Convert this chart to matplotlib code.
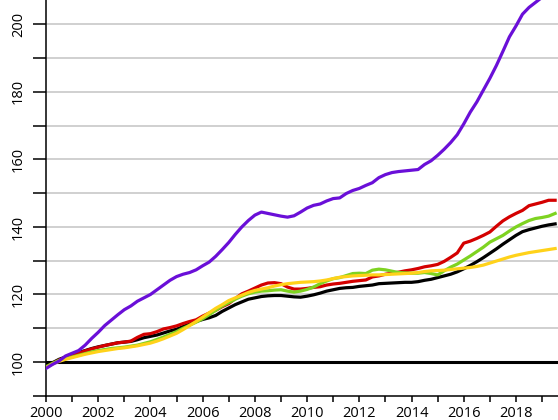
import numpy as np
import matplotlib
matplotlib.use("Agg")
import matplotlib.pyplot as plt

plt.rcParams['font.family'] = ['Open Sans', 'DejaVu Sans']

# quarterly time axis, 2000 Q1 .. 2019 Q3
years = np.arange(2000, 2019.51, 0.25)

purple = [98.1, 99.3, 100.3, 101.8, 102.6, 103.4, 105.0, 107.0,
          108.8, 110.8, 112.4, 114.0, 115.5, 116.6, 118.0, 119.0,
          120.0, 121.4, 122.8, 124.2, 125.3, 126.0, 126.5, 127.3,
          128.5, 129.6, 131.3, 133.3, 135.4, 137.8, 140.0, 141.9,
          143.5, 144.4, 144.0, 143.6, 143.2, 142.9, 143.3, 144.4,
          145.6, 146.4, 146.8, 147.7, 148.4, 148.6, 149.9, 150.8,
          151.4, 152.3, 153.1, 154.6, 155.5, 156.1, 156.4, 156.6,
          156.8, 157.0, 158.5, 159.6, 161.2, 163.0, 165.0, 167.3,
          170.5, 174.0, 177.0, 180.5, 184.0, 187.8, 192.0, 196.3,
          199.5, 203.0, 205.0, 206.5, 208.0, 209.5, 211.0]

red = [98.5, 99.5, 100.6, 101.3, 101.9, 102.6, 103.3, 103.9,
       104.4, 104.9, 105.3, 105.7, 105.9, 106.2, 107.3, 108.2,
       108.4, 109.0, 109.8, 110.2, 110.7, 111.4, 112.0, 112.5,
       113.6, 114.5, 115.3, 116.4, 117.3, 118.8, 120.2, 121.0,
       121.9, 122.8, 123.4, 123.5, 123.2, 122.2, 121.6, 121.6,
       121.8, 122.1, 122.3, 122.8, 123.1, 123.3, 123.6, 123.9,
       124.1, 124.3, 125.2, 125.5, 126.0, 126.3, 126.6, 127.0,
       127.3, 127.7, 128.2, 128.5, 128.9, 129.8, 131.0, 132.3,
       135.2, 135.8, 136.6, 137.5, 138.5, 140.2, 141.8, 143.0,
       144.0, 144.9, 146.3, 146.8, 147.3, 147.9, 147.9]

black = [98.8, 99.8, 100.8, 101.5, 102.1, 102.8, 103.4, 104.0,
         104.5, 104.9, 105.3, 105.7, 105.9, 106.1, 106.6, 107.2,
         107.6, 108.0, 108.6, 109.2, 109.7, 110.5, 111.3, 112.0,
         112.6, 113.1, 113.8, 115.0, 116.0, 117.0, 117.8, 118.6,
         119.0, 119.4, 119.6, 119.7, 119.7, 119.5, 119.3, 119.2,
         119.5, 119.9, 120.4, 121.0, 121.4, 121.8, 122.0, 122.1,
         122.4, 122.6, 122.8, 123.2, 123.3, 123.4, 123.5, 123.6,
         123.6, 123.8, 124.2, 124.5, 125.0, 125.5, 126.0, 126.7,
         127.6, 128.6, 129.7, 130.9, 132.2, 133.5, 134.9, 136.2,
         137.5, 138.6, 139.2, 139.7, 140.2, 140.6, 140.9]

green = [98.6, 99.6, 100.5, 101.0, 101.5, 102.0, 102.5, 103.0,
         103.4, 103.7, 104.0, 104.2, 104.4, 104.7, 105.0, 105.5,
         106.0, 106.7, 107.4, 108.2, 109.0, 110.0, 110.9, 111.8,
         112.8, 114.0, 115.3, 116.6, 117.6, 118.6, 119.5, 120.2,
         120.7, 121.0, 121.1, 121.3, 121.4, 121.0, 120.7, 121.0,
         121.5, 122.2, 123.2, 124.0, 124.7, 125.0, 125.6, 126.2,
         126.3, 126.2, 127.2, 127.5, 127.3, 126.9, 126.5, 126.4,
         126.3, 126.3, 126.5, 126.2, 125.8, 127.0, 128.1, 129.0,
         130.2, 131.4, 132.7, 134.0, 135.5, 136.5, 137.5, 138.8,
         140.0, 141.0, 141.9, 142.5, 142.8, 143.2, 144.0]

yellow = [98.3, 99.4, 100.2, 100.8, 101.3, 101.8, 102.3, 102.7,
          103.1, 103.4, 103.7, 104.0, 104.2, 104.5, 104.8, 105.2,
          105.6, 106.2, 106.9, 107.7, 108.5, 109.6, 110.8, 112.0,
          113.3, 114.6, 115.9, 117.0, 118.2, 119.0, 119.8, 120.6,
          121.2, 121.6, 122.0, 122.5, 122.9, 123.2, 123.4, 123.6,
          123.7, 123.8, 124.0, 124.3, 124.7, 125.1, 125.3, 125.5,
          125.6, 125.7, 125.8, 125.8, 125.9, 126.0, 126.1, 126.2,
          126.3, 126.5, 126.8, 127.0, 127.1, 127.2, 127.4, 127.6,
          127.8, 128.0, 128.3, 128.7, 129.3, 129.9, 130.5, 131.1,
          131.6, 132.0, 132.4, 132.7, 133.0, 133.3, 133.6]

fig = plt.figure(figsize=(5.58, 4.2), dpi=100)
ax = fig.add_axes([46 / 558, 24.2 / 420, 1 - 46 / 558, 1 - 24.2 / 420])

for v in range(110, 210, 10):
    ax.axhline(v, color="#c4c4c4", lw=1.1, zorder=1)
ax.axhline(100, color="black", lw=2.2, zorder=2)

lw = 2.3
ax.plot(years, black, color="black", lw=lw, zorder=3)
ax.plot(years, red, color="#d40000", lw=lw, zorder=3)
ax.plot(years, green, color="#7ed321", lw=lw, zorder=3)
ax.plot(years, yellow, color="#ffd21a", lw=lw, zorder=3)
ax.plot(years, purple, color="#6a0fd8", lw=lw, zorder=3)

ax.set_xlim(2000, 2019.61)
ax.set_ylim(90, 207.2)

ax.set_yticks(range(90, 210, 10))
ax.set_yticklabels([str(v) if v % 20 == 0 else "" for v in range(90, 210, 10)],
                   rotation=90, va="center")
ax.set_xticks(range(2000, 2020))
ax.set_xticklabels([str(y) if y % 2 == 0 else "" for y in range(2000, 2020)])

ax.tick_params(axis="y", length=9.4, width=1.1, pad=5, labelsize=10.5)
ax.tick_params(axis="x", length=4.3, width=1.1, pad=3, labelsize=10.5)

for s in ["top", "right"]:
    ax.spines[s].set_visible(False)
for s in ["left", "bottom"]:
    ax.spines[s].set_linewidth(1.1)

fig.savefig("out.png", dpi=100)
